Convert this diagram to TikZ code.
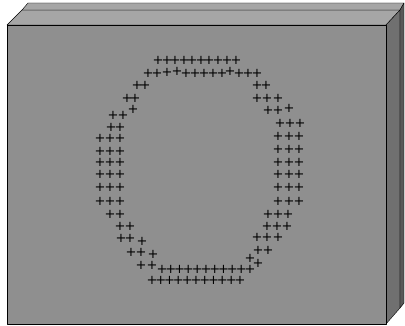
\documentclass[tikz,border=0pt]{standalone}
\usepackage{fontspec}
\newfontfamily\signfont{DejaVu Sans}
\definecolor{frontgray}{HTML}{8F8F8F}
\definecolor{topgray}{HTML}{A6A6A6}
\definecolor{sidegray}{HTML}{707070}
\definecolor{backgray}{HTML}{585858}
\tikzset{line width=.8pt,
  face/.style={draw=black,line join=round},
  sign/.style={inner sep=0pt,font=\signfont\fontsize{13}{13}\selectfont}}
\begin{document}
\begin{tikzpicture}[x=1pt,y=-1pt]
\useasboundingbox(0,0)rectangle(405,326);
% the slab
\filldraw[face,fill=topgray](7,25)--(22,10)--(400,10)--(386,25)--cycle;
\filldraw[face,fill=topgray](22,10)--(28,3)--(404,3)--(400,10)--cycle;
\filldraw[face,fill=sidegray](386,25)--(400,10)--(400,308)--(386,324)--cycle;
\filldraw[face,fill=backgray](400,10)--(404,3)--(404,303)--(400,308)--cycle;
\filldraw[face,fill=frontgray](7,25)rectangle(386,324);
% top rows
\foreach \x[count=\i] in {158,167,175,184,192,201,209,218,227,236}\node[sign](t\i)at(\x,60){+};
\foreach \x/\y[count=\i] in {148/73,157/73,167/72,177/71,186/73,195/73,204/73,213/73,222/73,230/71,239/73,248/73,257/73}
  \node[sign](u\i)at(\x,\y){+};
% left side
\foreach \x/\y[count=\i] in {137/85,145/85,127/98,135/98,133/109,113/115,123/115,111/127,120/127,
  110/214,120/214,120/226,130/226,121/238,130/238,142/241,131/252,141/252,153/254,141/265,152/265}
  \node[sign](l\i)at(\x,\y){+};
\foreach \y[count=\j] in {138,151,162,174,187,201}
  \foreach \x[count=\i] in {100,110,120}\node[sign](lc\j-\i)at(\x,\y){+};
% right side
\foreach \x/\y[count=\i] in {257/85,266/85,257/98,267/98,278/98,268/110,278/110,289/108,280/123,290/123,300/123,
  268/214,278/214,288/214,267/226,277/226,287/226,257/237,267/237,278/237,258/250,268/250,250/258,258/263}
  \node[sign](r\i)at(\x,\y){+};
\foreach \y[count=\j] in {136,149,162,174,187,201}
  \foreach \x[count=\i] in {278,289,299}\node[sign](rc\j-\i)at(\x,\y){+};
% bottom rows
\foreach \i in {0,...,10}{
  \node[sign](b\i)at(162+8.8*\i,269){+};
  \node[sign](c\i)at(152+8.8*\i,280){+};}
\end{tikzpicture}
\end{document}
